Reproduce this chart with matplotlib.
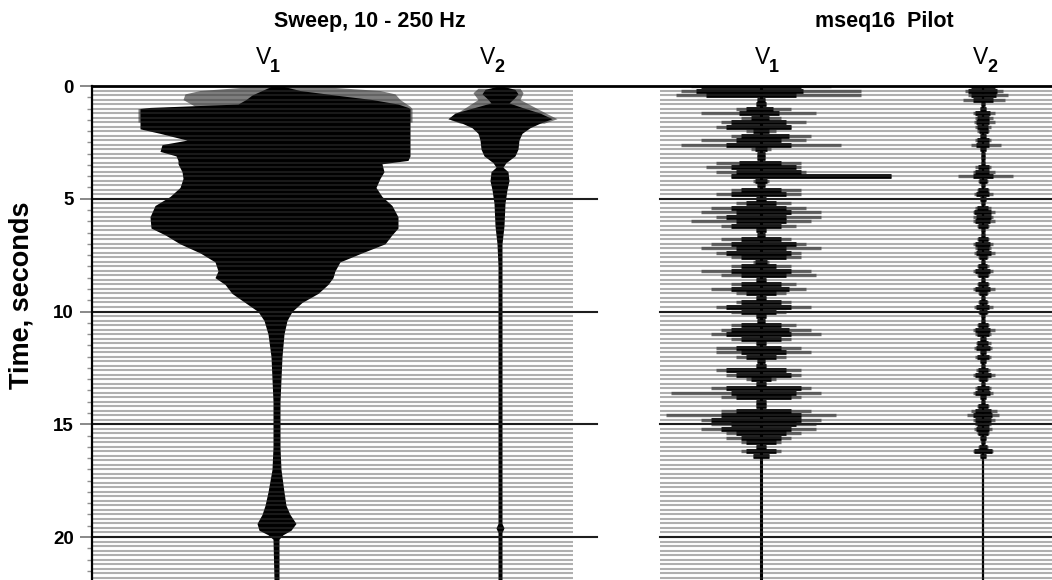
import numpy as np
import matplotlib
matplotlib.use("Agg")
import matplotlib.pyplot as plt
from matplotlib.collections import LineCollection

plt.rcParams['font.family'] = ['Liberation Sans', 'DejaVu Sans']

# ---------------------------------------------------------------- data
# Sweep record, V1 channel: outline of the recorded envelope
# (time in s, extent to the left / right of the trace centre)
sweep_v1_t = [0.0, 0.2, 0.4, 0.6, 0.8, 0.95, 1.0, 1.9, 2.1, 2.4, 2.6, 2.9, 3.1, 3.3,
              3.45, 3.8, 4.1, 4.5, 4.9, 5.3, 5.8, 6.3, 6.6, 7.0, 7.4, 7.8, 8.2, 8.5,
              8.8, 9.2, 9.6, 10.0, 10.4, 11.0, 12.0, 13.0, 14.0, 16.0, 17.0, 18.0,
              18.6, 19.0, 19.4, 19.7, 19.9, 20.1, 21.9]
sweep_v1_neg = [4, 14, 24, 30, 38, 126, 136, 136, 116, 89, 114, 116, 100, 98,
                98, 94, 93, 96, 106, 121, 126, 125, 111, 96, 76, 61, 58, 61,
                51, 44, 31, 18, 12, 8, 5, 4, 3, 3, 4, 8,
                11, 14, 19, 17, 8, 3, 2]
sweep_v1_pos = [6, 24, 59, 96, 122, 132, 134, 134, 134, 134, 134, 134, 134, 132,
                106, 108, 104, 100, 106, 116, 122, 122, 116, 109, 86, 64, 59, 57,
                52, 42, 26, 16, 11, 8, 6, 5, 4, 4, 5, 8,
                10, 14, 20, 15, 7, 3, 3]
# weaker early energy (grey fringe) of the same channel
sweep_v1_fringe_t = [0.05, 0.2, 0.35, 0.6, 0.9, 1.0, 1.6]
sweep_v1_fringe_neg = [31, 76, 91, 93, 81, 138, 138]
sweep_v1_fringe_pos = [54, 104, 119, 124, 134, 136, 136]

# Sweep record, V2 channel
sweep_v2_t = [0.0, 0.15, 0.35, 0.55, 0.75, 0.95, 1.2, 1.45, 1.65, 1.85, 2.1, 2.4,
              2.8, 3.1, 3.4, 3.6, 3.8, 4.2, 4.6, 5.2, 6.2, 7.0, 8.0, 19.4, 19.6,
              19.8, 21.9]
sweep_v2_neg = [2, 15, 18, 13, 9, 25, 45, 52, 38, 28, 22, 20, 19, 16, 7, 4, 9, 10,
                8, 6, 5, 3, 2, 2, 4, 2, 2]
sweep_v2_pos = [2, 15, 18, 14, 9, 22, 40, 52, 40, 30, 22, 19, 18, 15, 6, 3, 8, 9,
                7, 5, 4, 2, 2, 2, 4, 2, 2]
sweep_v2_fringe_t = [0.1, 0.3, 0.6, 1.25, 1.45, 1.65]
sweep_v2_fringe_neg = [22, 27, 22, 45, 52, 40]
sweep_v2_fringe_pos = [20, 23, 20, 48, 57, 44]

# mseq16 pilot record: one entry per 0.2 s trace row, 0 - 16.4 s
# (black left, black right, grey left, grey right)
mseq_v1_rows = [
    (60, 40, 70, 70), (65, 42, 80, 100), (55, 35, 85, 100), (4, 4, 4, 4), (5, 5, 5, 5),
    (15, 12, 25, 30), (22, 18, 60, 55), (10, 8, 20, 20), (30, 25, 40, 45), (35, 30, 45, 30),
    (8, 8, 15, 15), (20, 28, 30, 50), (25, 20, 60, 45), (35, 30, 80, 80), (6, 6, 10, 10),
    (4, 4, 4, 4), (4, 4, 4, 4), (22, 20, 45, 40), (30, 35, 55, 40), (25, 40, 45, 45),
    (30, 130, 30, 130), (6, 6, 8, 8), (4, 4, 4, 4), (20, 20, 30, 40), (30, 25, 45, 40),
    (5, 5, 5, 5), (15, 15, 25, 30), (30, 25, 50, 45), (25, 30, 60, 60), (35, 25, 45, 60),
    (25, 25, 70, 50), (30, 20, 40, 35), (5, 5, 5, 5), (4, 4, 4, 4), (20, 20, 40, 30),
    (30, 35, 50, 45), (25, 25, 60, 60), (35, 30, 45, 40), (20, 25, 30, 40), (6, 6, 8, 8),
    (20, 15, 30, 30), (30, 30, 60, 50), (20, 25, 40, 55), (5, 5, 5, 5), (20, 20, 30, 35),
    (30, 28, 50, 45), (15, 15, 25, 25), (5, 5, 5, 5), (20, 20, 25, 30), (35, 30, 45, 50),
    (20, 15, 30, 25), (5, 5, 5, 5), (4, 4, 4, 4), (20, 20, 30, 35), (30, 28, 40, 50),
    (35, 30, 50, 60), (20, 20, 30, 30), (5, 5, 5, 5), (25, 20, 45, 40), (20, 25, 45, 50),
    (15, 15, 25, 25), (4, 4, 4, 4), (5, 5, 5, 5), (35, 25, 45, 40), (25, 30, 35, 40),
    (10, 10, 15, 15), (5, 5, 5, 5), (35, 40, 50, 50), (30, 35, 90, 60), (25, 30, 40, 40),
    (5, 5, 5, 5), (5, 5, 5, 5), (25, 30, 40, 50), (40, 40, 95, 75), (50, 40, 60, 60),
    (30, 35, 50, 55), (40, 30, 60, 55), (25, 25, 35, 40), (20, 20, 35, 30), (15, 15, 20, 20),
    (5, 5, 5, 5), (15, 15, 20, 20), (8, 8, 8, 8),
]
mseq_v2_rows = [
    (12, 12, 14, 14), (15, 14, 18, 20), (12, 13, 15, 25), (10, 10, 20, 22), (2, 2, 2, 2),
    (3, 3, 3, 3), (8, 7, 10, 12), (6, 6, 8, 10), (7, 6, 9, 12), (6, 5, 8, 8),
    (4, 5, 6, 6), (3, 3, 3, 3), (6, 6, 8, 8), (7, 6, 12, 18), (3, 3, 3, 3),
    (2, 2, 2, 2), (2, 2, 2, 2), (2, 2, 2, 2), (5, 6, 8, 8), (8, 6, 10, 12),
    (10, 10, 25, 30), (4, 4, 5, 5), (2, 2, 2, 2), (5, 5, 6, 6), (7, 6, 9, 10),
    (3, 3, 3, 3), (2, 2, 2, 2), (6, 5, 8, 8), (9, 8, 10, 12), (7, 8, 10, 10),
    (8, 7, 10, 12), (5, 5, 6, 6), (2, 2, 2, 2), (2, 2, 2, 2), (5, 5, 6, 6),
    (8, 7, 10, 10), (6, 6, 8, 8), (7, 8, 9, 12), (4, 4, 5, 5), (2, 2, 2, 2),
    (5, 4, 6, 6), (8, 7, 10, 10), (5, 5, 6, 6), (2, 2, 2, 2), (5, 5, 6, 6),
    (8, 7, 10, 12), (4, 4, 5, 5), (2, 2, 2, 2), (4, 4, 5, 5), (7, 6, 9, 10),
    (4, 4, 5, 5), (2, 2, 2, 2), (2, 2, 2, 2), (5, 5, 6, 6), (8, 7, 10, 12),
    (6, 6, 8, 8), (3, 3, 3, 3), (6, 5, 7, 8), (7, 7, 9, 9), (3, 3, 3, 3),
    (6, 6, 8, 8), (3, 3, 3, 3), (2, 2, 2, 2), (5, 5, 7, 7), (8, 8, 10, 12),
    (4, 4, 5, 5), (2, 2, 2, 2), (6, 6, 8, 8), (8, 7, 10, 10), (3, 3, 3, 3),
    (2, 2, 2, 2), (5, 5, 6, 6), (8, 8, 12, 14), (10, 9, 16, 16), (8, 8, 10, 12),
    (6, 6, 8, 8), (7, 6, 9, 9), (5, 5, 6, 6), (3, 3, 3, 3), (2, 2, 2, 2),
    (4, 4, 5, 5), (9, 9, 10, 10), (3, 3, 3, 3),
]

y_ticks = [0, 5, 10, 15, 20]
panel_titles = ["Sweep, 10 - 250 Hz", "mseq16  Pilot"]
channel_names = ["1", "2", "1", "2"]

# ---------------------------------------------------------------- layout
W, H = 1052, 580
PX_PER_S = 22.55
TOP = 86
ROW_DT = 0.2

fig = plt.figure(figsize=(W / 100, H / 100), dpi=100)
ax = fig.add_axes([92 / W, 0, (W - 92) / W, (H - TOP) / H])
t_bottom = (H - TOP) / PX_PER_S
ax.set_xlim(92, W)
ax.set_ylim(t_bottom, 0)

left_panel = (92, 573)
right_panel = (660, W)
centers = [276, 500, 761, 983]

row_t = np.arange(0, t_bottom, ROW_DT)

# grey fringes and black envelopes of the sweep record
for c, t, neg, pos in [(centers[0], sweep_v1_fringe_t, sweep_v1_fringe_neg, sweep_v1_fringe_pos),
                       (centers[1], sweep_v2_fringe_t, sweep_v2_fringe_neg, sweep_v2_fringe_pos)]:
    t = np.array(t)
    ax.fill_betweenx(t, c - np.array(neg), c + np.array(pos), color='#7e7e7e', lw=0, zorder=2)
for c, t, neg, pos in [(centers[0], sweep_v1_t, sweep_v1_neg, sweep_v1_pos),
                       (centers[1], sweep_v2_t, sweep_v2_neg, sweep_v2_pos)]:
    t = np.array(t)
    ax.fill_betweenx(t, c - np.array(neg), c + np.array(pos), color='black', lw=0, zorder=3)

# mseq record: per-row bars plus the continuous trace line
for c, rows, lw_c in [(centers[2], mseq_v1_rows, 2.2), (centers[3], mseq_v2_rows, 1.6)]:
    arr = np.array(rows, dtype=float)
    tt = np.arange(len(arr)) * ROW_DT
    grey = [[(c - gl, t), (c + gr, t)] for t, (_, _, gl, gr) in zip(tt, arr)]
    black = [[(c - bl, t), (c + br, t)] for t, (bl, br, _, _) in zip(tt, arr)]
    ax.add_collection(LineCollection(grey, colors='#6e6e6e', linewidths=2.4,
                                     capstyle='butt', zorder=2))
    ax.add_collection(LineCollection(black, colors='black', linewidths=3.4,
                                     capstyle='butt', zorder=3))
    ax.plot([c, c], [0, t_bottom], color='black', lw=lw_c, zorder=3, solid_capstyle='butt')

# trace rows drawn over everything (grey on white, dark stripes on black)
segs = []
for x0, x1 in (left_panel, right_panel):
    segs += [[(x0, t), (x1, t)] for t in row_t]
ax.add_collection(LineCollection(segs, colors=[(61 / 255,) * 3], alpha=0.41,
                                 linewidths=1.5, zorder=5))

# 5-second reference lines and the zero line
for t in y_ticks[1:]:
    ax.plot([92, 597], [t, t], color='#1e1e1e', lw=1.5, zorder=6)
    ax.plot([660, W], [t, t], color='#1e1e1e', lw=1.5, zorder=6)
ax.plot([92, W], [0, 0], color='black', lw=2, zorder=7, clip_on=False)

# axes styling
for s in ['top', 'right', 'bottom']:
    ax.spines[s].set_visible(False)
ax.spines['left'].set_linewidth(1.6)
ax.spines['left'].set_zorder(8)
ax.set_xticks([])
ax.set_yticks(y_ticks)
ax.set_yticks(np.arange(0, t_bottom, 0.5), minor=True)
ax.set_yticklabels([str(v) for v in y_ticks], fontsize=13.5, fontweight='bold')
ax.tick_params(axis='y', which='major', length=9, width=1.3, color='#808080', pad=4)
ax.tick_params(axis='y', which='minor', length=3.5, width=1.0, color='#909090')


def fig_text(x, y, s, **kw):
    fig.text(x / W, 1 - y / H, s, **kw)


fig_text(370, 22, panel_titles[0], fontsize=15.5, fontweight='bold', ha='center', va='center')
fig_text(884, 22, panel_titles[1], fontsize=15.5, fontweight='bold', ha='center', va='center')

label_x = [264, 488, 763, 981]
for x, n in zip(label_x, channel_names):
    fig_text(x, 58, "V", fontsize=16.5, ha='center', va='center')
    fig_text(x + 11, 67, n, fontsize=13, fontweight='bold', ha='center', va='center')

fig_text(22, 295, "Time, seconds", fontsize=19.5, fontweight='bold', rotation=90,
         ha='center', va='center')

fig.savefig("out.png", dpi=100)
